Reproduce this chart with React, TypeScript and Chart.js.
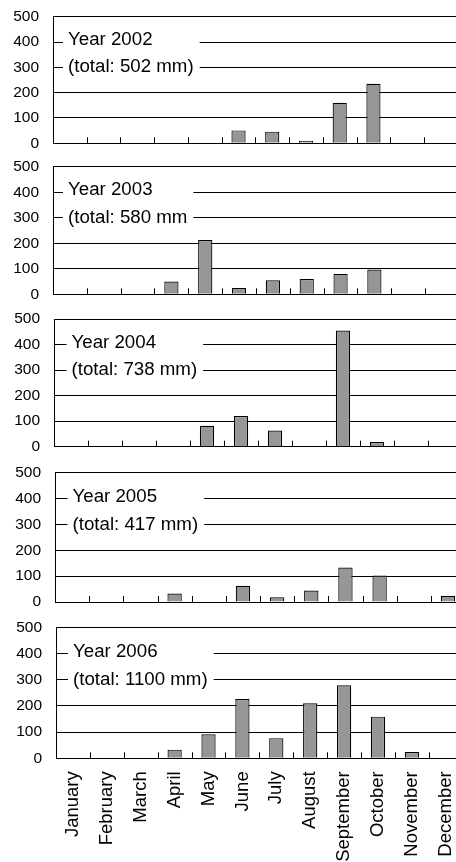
import React, { useEffect, useRef } from 'react';
import { Chart, registerables } from 'chart.js';

Chart.register(...registerables);

// ---------- data ----------
const MONTHS = [
  'January', 'February', 'March', 'April', 'May', 'June',
  'July', 'August', 'September', 'October', 'November', 'December',
];
const RAIN_2002 = [0, 0, 0, 0, 0, 51, 46, 10, 160, 235, 0, 0];
const RAIN_2003 = [0, 0, 0, 50, 213, 25, 55, 60, 80, 97, 0, 0];
const RAIN_2004 = [0, 0, 0, 0, 82, 120, 63, 0, 455, 18, 0, 0];
const RAIN_2005 = [0, 0, 0, 33, 0, 63, 18, 44, 133, 102, 0, 24];
const RAIN_2006 = [0, 0, 0, 33, 92, 226, 77, 210, 279, 159, 24, 0];
const YEAR_LABELS = ['Year 2002', 'Year 2003', 'Year 2004', 'Year 2005', 'Year 2006'];
const TOTAL_LABELS = [
  '(total: 502 mm)', '(total: 580 mm', '(total: 738 mm)', '(total: 417 mm)', '(total: 1100 mm)',
];
const Y_TICKS = [0, 100, 200, 300, 400, 500];

const SERIES = [RAIN_2002, RAIN_2003, RAIN_2004, RAIN_2005, RAIN_2006];

// ---------- layout / style ----------
const FAMILY = '"Liberation Sans", Arial, Helvetica, sans-serif';
const PAGE_W = 456;
const PAGE_H = 862;
const PANELS = [
  { left: 53, catW: 33.73, top: 16.7, bottom: 143.3, textDx: 15 },
  { left: 53, catW: 33.83, top: 166.7, bottom: 294.3, textDx: 15 },
  { left: 54, catW: 34.0, top: 319, bottom: 446.7, textDx: 17.5 },
  { left: 55, catW: 34.17, top: 472.7, bottom: 602, textDx: 17.5 },
  { left: 56, catW: 34.27, top: 627.3, bottom: 758.3, textDx: 17 },
];
const TEXT_SIZE = 18.7;
const TICK_SIZE = 15.5;
const MONTH_SIZE = 18.5;
const TRANSPARENT = 'rgba(0,0,0,0)';

const panelPlugin = {
  id: 'panelDecor',
  beforeDatasetsDraw(chart: any, _args: any, opts: any) {
    const { ctx, chartArea, scales } = chart;
    const y400 = scales.y.getPixelForValue(400);
    const y300 = scales.y.getPixelForValue(300);
    ctx.save();
    ctx.font = `${TEXT_SIZE}px ${FAMILY}`;
    const tx = chartArea.left + opts.dx;
    const w = Math.max(ctx.measureText(opts.year).width, ctx.measureText(opts.total).width);
    ctx.fillStyle = '#ffffff';
    ctx.fillRect(tx - 5, y400 - 11, w + 11, y300 - y400 + 22);
    ctx.fillStyle = '#000000';
    ctx.textAlign = 'left';
    ctx.textBaseline = 'middle';
    ctx.fillText(opts.year, tx, y400 - 2);
    ctx.fillText(opts.total, tx, y300);
    ctx.restore();
  },
  afterDatasetsDraw(chart: any) {
    const { ctx, chartArea, scales } = chart;
    const xs = scales.x;
    ctx.save();
    ctx.strokeStyle = '#000000';
    ctx.lineWidth = 1;
    ctx.beginPath();
    for (let i = 1; i < MONTHS.length; i++) {
      const px = Math.round((xs.getPixelForTick(i - 1) + xs.getPixelForTick(i)) / 2) + 0.5;
      ctx.moveTo(px, chartArea.bottom);
      ctx.lineTo(px, chartArea.bottom - 6);
    }
    ctx.stroke();
    ctx.restore();
  },
};

function Panel({ idx }: { idx: number }) {
  const ref = useRef<HTMLCanvasElement | null>(null);
  const p = PANELS[idx];
  const isLast = idx === PANELS.length - 1;
  const canvasTop = Math.floor(p.top) - 10;
  const canvasBottom = isLast ? PAGE_H : Math.ceil(p.bottom) + 12;
  const height = canvasBottom - canvasTop;
  const rightEdge = p.left + 12 * p.catW;
  const width = Math.ceil(rightEdge);

  useEffect(() => {
    if (!ref.current) return;
    const chart = new Chart(ref.current, {
      type: 'bar',
      data: {
        labels: MONTHS,
        datasets: [
          {
            data: SERIES[idx],
            backgroundColor: '#969696',
            borderColor: '#000000',
            borderWidth: 1.2,
            barPercentage: 0.42,
            categoryPercentage: 1,
          },
        ],
      },
      options: {
        responsive: false,
        animation: false,
        devicePixelRatio: 1,
        layout: {
          padding: {
            top: p.top - canvasTop,
            bottom: isLast ? 0 : height - (p.bottom - canvasTop),
            left: 0,
            right: width - rightEdge,
          },
        },
        plugins: {
          legend: { display: false },
          tooltip: { enabled: false },
          title: { display: false },
          panelDecor: { year: YEAR_LABELS[idx], total: TOTAL_LABELS[idx], dx: p.textDx },
        } as any,
        scales: {
          x: {
            offset: true,
            grid: {
              display: isLast,
              drawOnChartArea: false,
              drawTicks: true,
              tickLength: 13,
              tickColor: TRANSPARENT,
              color: TRANSPARENT,
            },
            border: { display: true, color: '#000000', width: 1 },
            ticks: {
              display: isLast,
              autoSkip: false,
              minRotation: 90,
              maxRotation: 90,
              padding: 0,
              color: '#000000',
              font: { family: FAMILY, size: MONTH_SIZE },
            },
            afterFit: (s: any) => {
              s.height = isLast ? PAGE_H - p.bottom : 0;
            },
          },
          y: {
            min: Y_TICKS[0],
            max: Y_TICKS[Y_TICKS.length - 1],
            afterBuildTicks: (s: any) => {
              s.ticks = Y_TICKS.map((v) => ({ value: v }));
            },
            ticks: {
              padding: 0,
              color: '#000000',
              font: { family: FAMILY, size: TICK_SIZE },
              callback: (v: any) => String(v),
            },
            grid: {
              color: '#000000',
              lineWidth: 1,
              drawTicks: true,
              tickLength: 14,
              tickColor: TRANSPARENT,
            },
            border: { display: true, color: '#000000', width: 1 },
            afterFit: (s: any) => {
              s.width = p.left;
            },
          },
        },
      } as any,
      plugins: [panelPlugin as any],
    });
    return () => chart.destroy();
  }, []);

  return (
    <canvas
      ref={ref}
      width={width}
      height={height}
      style={{ position: 'absolute', left: 0, top: canvasTop, width, height, display: 'block' }}
    />
  );
}

export default function App() {
  return (
    <div
      style={{
        position: 'absolute',
        left: 0,
        top: 0,
        width: PAGE_W,
        height: PAGE_H,
        overflow: 'hidden',
        background: '#ffffff',
      }}
    >
      {PANELS.map((_, i) => (
        <Panel key={i} idx={i} />
      ))}
    </div>
  );
}
